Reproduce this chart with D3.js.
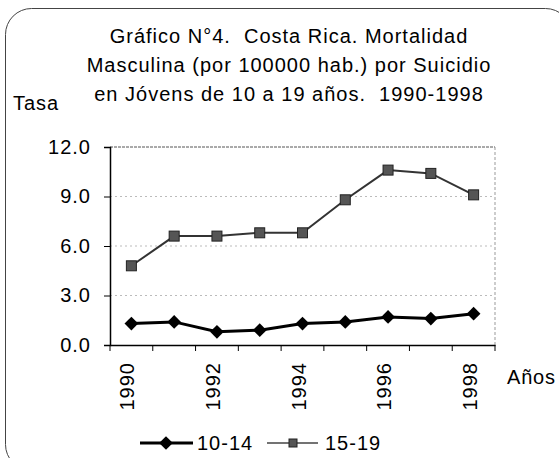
<!DOCTYPE html>
<html>
    <head>
        <title>Costa Rica Suicidio</title>
        <style>
            body { margin:0; background:white; }
            svg text { font-family: "Liberation Sans", Arial, sans-serif; fill:black; font-size:20px; letter-spacing:1px; white-space:pre; }
        </style>
    </head>
    <body>
        <div id="chart"></div>
        <script src="https://d3js.org/d3.v7.min.js"></script>
        <script>
            var years = ["1990","1991","1992","1993","1994","1995","1996","1997","1998"];
            var seriesNames = ["10-14", "15-19"];
            var values1014 = [1.3, 1.4, 0.8, 0.9, 1.3, 1.4, 1.7, 1.6, 1.9];
            var values1519 = [4.8, 6.6, 6.6, 6.8, 6.8, 8.8, 10.6, 10.4, 9.1];
            var yTicks = [0, 3, 6, 9, 12];
            var titleLines = ["Gráfico N°4.  Costa Rica. Mortalidad",
                              "Masculina (por 100000 hab.) por Suicidio",
                              "en Jóvens de 10 a 19 años.  1990-1998"];

            var width = 559, height = 458;
            var svg = d3.select("#chart").append("svg")
                .attr("width", width)
                .attr("height", height);

            // outer rounded frame (runs off the right and bottom edges)
            svg.append("rect")
                .attr("x", 5.5).attr("y", 8.5)
                .attr("width", 566).attr("height", 462)
                .attr("rx", 26).attr("ry", 26)
                .attr("fill", "none")
                .attr("stroke", "#444")
                .attr("stroke-width", 1);

            svg.selectAll(".title")
                .data(titleLines)
                .enter().append("text")
                .attr("class", "title")
                .attr("x", 289)
                .attr("y", function(d, i) { return 43 + i * 29; })
                .attr("text-anchor", "middle")
                .text(function(d) { return d; });

            svg.append("text")
                .attr("x", 13).attr("y", 110)
                .text("Tasa");

            var x = d3.scaleBand().domain(years).range([110, 495]);
            var y = d3.scaleLinear().domain([0, 12]).range([345, 147]);

            // gridlines
            svg.selectAll(".grid")
                .data(yTicks.filter(function(d) { return d > 0 && d < 12; }))
                .enter().append("line")
                .attr("x1", 110).attr("x2", 495)
                .attr("y1", function(d) { return y(d); })
                .attr("y2", function(d) { return y(d); })
                .attr("stroke", "#bbb")
                .attr("stroke-dasharray", "2,3")
                .attr("stroke-width", 1);

            // plot box top and right
            svg.append("line")
                .attr("x1", 110).attr("x2", 495)
                .attr("y1", y(12)).attr("y2", y(12))
                .attr("stroke", "#555").attr("stroke-dasharray", "3,1");
            svg.append("line")
                .attr("x1", 495).attr("x2", 495)
                .attr("y1", y(12)).attr("y2", y(0))
                .attr("stroke", "#999").attr("stroke-dasharray", "3,2");

            var yAxis = svg.append("g")
                .attr("transform", "translate(110,0)")
                .call(d3.axisLeft(y).tickValues(yTicks).tickFormat(d3.format(".1f")).tickSize(6).tickPadding(13));
            yAxis.selectAll("text").style("font-size", "20px").attr("font-family", null);

            var xAxis = svg.append("g")
                .attr("transform", "translate(0," + y(0) + ")")
                .call(d3.axisBottom(x).tickSize(0).tickFormat(function(d, i) { return i % 2 == 0 ? d : ""; }));
            xAxis.selectAll("text")
                .attr("transform", "rotate(-90)")
                .attr("x", -17)
                .attr("y", -4)
                .attr("dy", "0.35em")
                .attr("text-anchor", "end")
                .attr("font-family", null)
                .style("font-size", "20px");
            // band-edge tick marks like the original
            xAxis.selectAll(".edge")
                .data(years.concat(["end"]))
                .enter().append("line")
                .attr("x1", function(d, i) { return 110 + i * x.bandwidth(); })
                .attr("x2", function(d, i) { return 110 + i * x.bandwidth(); })
                .attr("y1", 0).attr("y2", 6)
                .attr("stroke", "black");
            svg.selectAll(".domain").attr("stroke", "black").attr("stroke-width", 1.5);

            svg.append("text")
                .attr("x", 507).attr("y", 384)
                .style("letter-spacing", "0.8px")
                .text("Años");

            var line = d3.line()
                .x(function(d, i) { return x(years[i]) + x.bandwidth() / 2; })
                .y(function(d) { return y(d); });

            svg.append("path")
                .datum(values1519)
                .attr("d", line)
                .attr("fill", "none")
                .attr("stroke", "#333")
                .attr("stroke-width", 2);
            svg.selectAll(".sq")
                .data(values1519)
                .enter().append("rect")
                .attr("x", function(d, i) { return x(years[i]) + x.bandwidth() / 2 - 5; })
                .attr("y", function(d) { return y(d) - 5; })
                .attr("width", 10).attr("height", 10)
                .attr("fill", "#555")
                .attr("stroke", "#222");

            svg.append("path")
                .datum(values1014)
                .attr("d", line)
                .attr("fill", "none")
                .attr("stroke", "black")
                .attr("stroke-width", 3);
            var diamond = d3.symbol().type(d3.symbolDiamond2).size(120);
            svg.selectAll(".dm")
                .data(values1014)
                .enter().append("path")
                .attr("d", diamond)
                .attr("transform", function(d, i) {
                    return "translate(" + (x(years[i]) + x.bandwidth() / 2) + "," + y(d) + ")";
                })
                .attr("fill", "black");

            // legend
            var ly = 443;
            svg.append("line").attr("x1", 140).attr("x2", 193).attr("y1", ly).attr("y2", ly)
                .attr("stroke", "black").attr("stroke-width", 3);
            svg.append("path").attr("d", diamond)
                .attr("transform", "translate(166," + ly + ")").attr("fill", "black");
            svg.append("text").attr("x", 197).attr("y", ly + 7).text(seriesNames[0]);
            svg.append("line").attr("x1", 267).attr("x2", 318).attr("y1", ly).attr("y2", ly)
                .attr("stroke", "#444").attr("stroke-width", 1.5);
            svg.append("rect").attr("x", 289).attr("y", ly - 4).attr("width", 8).attr("height", 8)
                .attr("fill", "#555").attr("stroke", "#222");
            svg.append("text").attr("x", 325).attr("y", ly + 7).text(seriesNames[1]);
        </script>
    </body>
</html>
